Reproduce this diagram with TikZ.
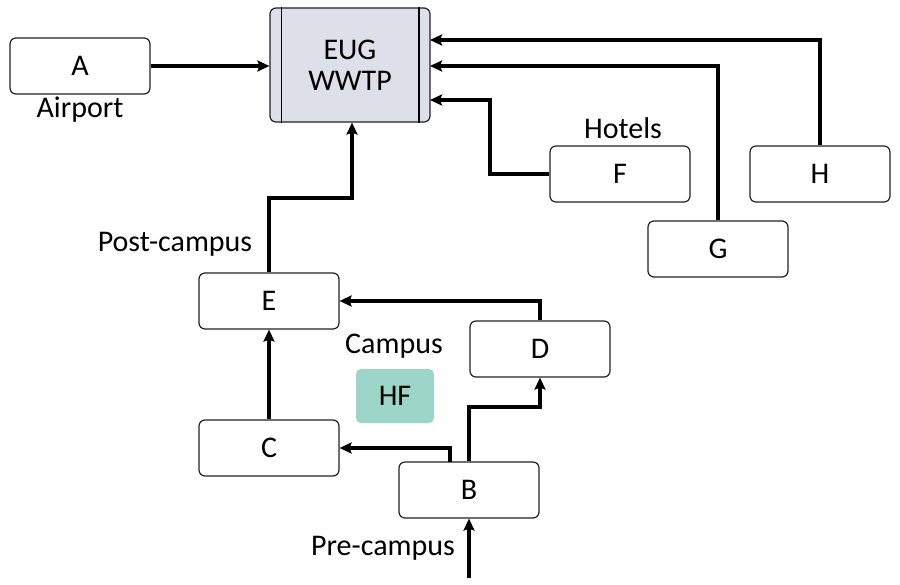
\documentclass[tikz,border=0pt]{standalone}
\usepackage{fontspec}
\setmainfont{Carlito}
\usetikzlibrary{arrows.meta,calc}
\definecolor{wwtp}{HTML}{DDE0E9}
\definecolor{hfc}{HTML}{9DD5C9}
\definecolor{edge}{HTML}{222222}
\tikzset{
  box/.style={draw=edge, line width=1.2pt, rounded corners=6pt, fill=white,
    minimum width=140pt, minimum height=56pt, inner sep=0pt,
    font=\fontsize{30}{34}\selectfont},
  lbl/.style={font=\fontsize{30}{34}\selectfont, inner sep=0pt},
  arr/.style={line width=3.2pt, -{Stealth[length=12pt,width=11pt,inset=2pt]}}
}
\begin{document}
\begin{tikzpicture}[x=1pt,y=-1pt]
\useasboundingbox (0,0) rectangle (900,585);
% nodes
\node[box] (A) at (80,66) {A};
\node[box, fill=wwtp, minimum width=160pt, minimum height=114pt, align=center] (W) at (350,65) {EUG\\[-3pt]WWTP};
\draw[black, line width=1.8pt] ($(W.north west)+(12,0)$) -- ($(W.south west)+(12,0)$);
\draw[black, line width=1.8pt] ($(W.north east)+(-12,0)$) -- ($(W.south east)+(-12,0)$);
\node[box] (F) at (620,174) {F};
\node[box] (H) at (820,174) {H};
\node[box] (G) at (718,249) {G};
\node[box] (E) at (269,301) {E};
\node[box] (D) at (540,349) {D};
\node[box] (C) at (269,448) {C};
\node[box] (B) at (469,490) {B};
\node[box, draw=none, fill=hfc, minimum width=78pt, minimum height=54pt, rounded corners=5pt] (HF) at (395,396) {HF};
% labels
\node[lbl] (lA) at (80,110) {Airport};
\node[lbl] (lF) at (623,128) {Hotels};
\node[lbl] (lE) at (175,244) {Post-campus};
\node[lbl] (lC) at (394,346) {Campus};
\node[lbl] (lB) at (383,548) {Pre-campus};
% coordinates
\coordinate (eH) at (430,40);
\coordinate (eG) at (430,66);
\coordinate (eF) at (430,100);
\coordinate (bF) at (490,100);
\coordinate (bE) at (352,198);
\coordinate (bD) at (540,407);
\coordinate (sB) at (469,578);
\coordinate (bC) at (450,462);
% connectors
\draw[arr] (A.east) -- (A.east -| W.west);
\draw[arr] (H.north) |- (eH);
\draw[arr] (G.north) |- (eG);
\draw[arr] (F.west) -| (bF) -- (eF);
\draw[arr] (E.north) |- (bE) -- (W.south -| bE);
\draw[arr] (D.north) |- (E.east);
\draw[arr] (C.north) -- (E.south);
\draw[arr] (bC) |- (C.east);
\draw[arr] (B.north) |- (bD) -- (D.south);
\draw[arr] (sB) -- (B.south);
\end{tikzpicture}
\end{document}
